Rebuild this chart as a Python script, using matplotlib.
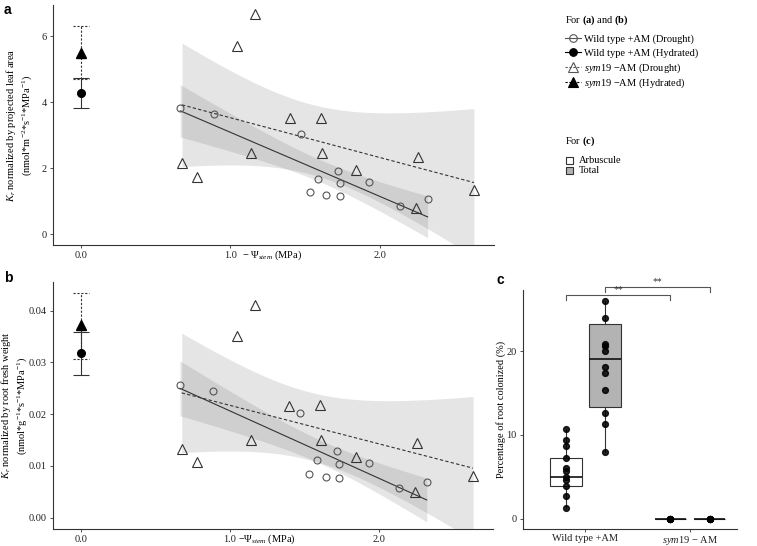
import numpy as np
import matplotlib
matplotlib.use("Agg")
import matplotlib.pyplot as plt
from matplotlib.lines import Line2D
from matplotlib.patches import Rectangle

plt.rcParams['font.family'] = ['Liberation Serif', 'DejaVu Serif']
plt.rcParams['mathtext.fontset'] = 'custom'
plt.rcParams['mathtext.rm'] = 'Liberation Serif'
plt.rcParams['mathtext.it'] = 'Liberation Serif:italic'
plt.rcParams['mathtext.bf'] = 'Liberation Serif:bold'
plt.rcParams['font.size'] = 7.5

# ---- data ----
# drought plants: -Psi_stem (MPa)
wt_psi = np.array([0.664, 0.887, 1.472, 1.719, 1.583, 1.730, 1.929, 1.532, 1.641, 1.730, 2.136, 2.319])
sym_psi = np.array([0.676, 0.778, 1.046, 1.166, 1.139, 1.396, 1.603, 1.612, 1.842, 2.254, 2.241, 2.629])

# (a) Kr by projected leaf area
wt_kr_leaf = np.array([3.82, 3.65, 3.04, 1.92, 1.66, 1.56, 1.58, 1.26, 1.19, 1.14, 0.84, 1.05])
sym_kr_leaf = np.array([2.15, 1.73, 5.71, 6.67, 2.45, 3.51, 3.52, 2.45, 1.93, 2.34, 0.78, 1.34])
# hydrated: mean, low, high
wt_hyd_leaf = [4.28, 3.82, 4.73]
sym_hyd_leaf = [5.50, 4.69, 6.29]

# (b) Kr by root fresh weight
wt_kr_root = np.array([0.02557, 0.02454, 0.02023, 0.01282, 0.01114, 0.01037, 0.01063,
                       0.00837, 0.00792, 0.00760, 0.00567, 0.00696])
sym_kr_root = np.array([0.01320, 0.01069, 0.03510, 0.04120, 0.01507, 0.02164, 0.02177,
                        0.01507, 0.01179, 0.01443, 0.00490, 0.00812])
wt_hyd_root = [0.03175, 0.02757, 0.03594]
sym_hyd_root = [0.03723, 0.03060, 0.04348]

# (c) colonisation (%)
groups = ['Wild type +AM', r'$\mathit{sym19}$ − AM']
arb_wt = [10.7, 9.37, 8.67, 7.28, 6.0, 5.65, 5.0, 4.62, 3.94, 2.67, 1.24]
tot_wt = [26.0, 24.0, 20.8, 20.6, 20.0, 18.1, 17.4, 15.4, 12.65, 11.3, 7.92]
arb_sym = [0, 0, 0, 0, 0, 0]
tot_sym = [0, 0, 0, 0, 0, 0]
# box stats: low whisker, q1, median, q3, high whisker
box_arb_wt = [1.24, 3.94, 5.0, 7.28, 10.7]
box_tot_wt = [7.92, 13.29, 19.02, 23.23, 26.0]
box_zero = [0, 0, 0, 0, 0]

legend_ab = ['Wild type +AM (Drought)', 'Wild type +AM (Hydrated)',
             r'$\mathit{sym19}$ −AM (Drought)', r'$\mathit{sym19}$ −AM (Hydrated)']
legend_c = ['Arbuscule', 'Total']

T_CRIT = 2.228  # t(0.975, df=10)
DARK = '#333333'
GREY_FILL = '#b3b3b3'
DASH = (0, (3, 2))
W, H = 757, 546


def fit_band(x, y):
    n = len(x)
    b1, b0 = np.polyfit(x, y, 1)
    xs = np.linspace(x.min(), x.max(), 100)
    yhat = b0 + b1 * xs
    resid = y - (b0 + b1 * x)
    s = np.sqrt((resid ** 2).sum() / (n - 2))
    se = s * np.sqrt(1 / n + (xs - x.mean()) ** 2 / ((x - x.mean()) ** 2).sum())
    return xs, yhat, yhat - T_CRIT * se, yhat + T_CRIT * se


def style_axes(ax):
    for side in ['top', 'right']:
        ax.spines[side].set_visible(False)
    for side in ['left', 'bottom']:
        ax.spines[side].set_color(DARK)
        ax.spines[side].set_linewidth(0.8)
    ax.tick_params(length=2.5, width=0.6, color=DARK, labelcolor='#222222',
                   labelsize=7.5, pad=2)


def kr_panel(ax, wt_y, sym_y, wt_hyd, sym_hyd, cap):
    for x, y, ls in [(sym_psi, sym_y, DASH), (wt_psi, wt_y, '-')]:
        xs, yhat, lo, hi = fit_band(x, y)
        ax.fill_between(xs, lo, hi, color='#555555', alpha=0.15, lw=0, zorder=1)
        ax.plot(xs, yhat, color=DARK, lw=0.8, ls=ls, zorder=2)
    ax.plot(wt_psi, wt_y, 'o', ms=5.0, mfc='none', mec='#555555', mew=0.8, zorder=3)
    ax.plot(sym_psi, sym_y, '^', ms=7.5, mfc='none', mec=DARK, mew=0.8, zorder=3)
    # hydrated means with error bars at x = 0
    for (m, lo, hi), ls, mk, ms in [(sym_hyd, (0, (2, 1.5)), '^', 6.5), (wt_hyd, '-', 'o', 5.5)]:
        ax.vlines(0, lo, hi, color=DARK, lw=0.8, linestyles=[ls], zorder=2)
        ax.hlines([lo, hi], -cap, cap, color=DARK, lw=0.8, linestyles=[ls], zorder=2)
        ax.plot(0, m, mk, ms=ms, color='black', zorder=4)
    ax.set_xticks([0, 1, 2])
    ax.set_xticklabels(['0.0', '1.0', '2.0'])
    style_axes(ax)


def set_ylabel_at(ax, text, px_center, ax_left_px, ax_width_px):
    ax.set_ylabel(text, fontsize=7.5, linespacing=1.2)
    ax.yaxis.set_label_coords((px_center - ax_left_px) / ax_width_px, 0.5)
    ax.yaxis.label.set_verticalalignment('center')


fig = plt.figure(figsize=(7.57, 5.46), dpi=100)

# (a)
ax_a = fig.add_axes([53 / W, 1 - 245 / H, 441 / W, 240 / H])
kr_panel(ax_a, wt_kr_leaf, sym_kr_leaf, wt_hyd_leaf, sym_hyd_leaf, 0.052)
ax_a.set_xlim(-0.187, 2.763)
ax_a.set_ylim(-0.333, 6.94)
ax_a.set_yticks([0, 2, 4, 6])
set_ylabel_at(ax_a, r'$K_r$ normalized by projected leaf area' + '\n' +
              r'(nmol*m$^{-2}$*s$^{-1}$*MPa$^{-1}$)', 19, 53, 441)
ax_a.annotate(r'$-\ \mathit{Ψ}_{\mathit{stem}}$ (MPa)', xy=(1.28, 0), xycoords=('data', 'axes fraction'),
              xytext=(0, -7.5), textcoords='offset points', ha='center', va='center', fontsize=7.5)

# (b)
ax_b = fig.add_axes([53 / W, 1 - 529 / H, 440 / W, 247 / H])
kr_panel(ax_b, wt_kr_root, sym_kr_root, wt_hyd_root, sym_hyd_root, 0.052)
ax_b.set_xlim(-0.187, 2.763)
ax_b.set_ylim(-0.00218, 0.04555)
ax_b.set_yticks([0, 0.01, 0.02, 0.03, 0.04])
ax_b.set_yticklabels(['0.00', '0.01', '0.02', '0.03', '0.04'])
set_ylabel_at(ax_b, r'$K_r$ normalized by root fresh weight' + '\n' +
              r'(nmol*g$^{-1}$*s$^{-1}$*MPa$^{-1}$)', 14, 53, 440)
ax_b.annotate(r'$-\mathit{Ψ}_{\mathit{stem}}$ (MPa)', xy=(1.25, 0), xycoords=('data', 'axes fraction'),
              xytext=(0, -7.5), textcoords='offset points', ha='center', va='center', fontsize=7.5)

# (c) colonisation boxplots
ax_c = fig.add_axes([523 / W, 1 - 529 / H, 214 / W, 239 / H])
off, bw = 0.187, 0.30
pos = [1 - off, 1 + off, 2 - off, 2 + off]
fills = ['white', GREY_FILL, 'white', GREY_FILL]
stats = []
for b in [box_arb_wt, box_tot_wt, box_zero, box_zero]:
    stats.append(dict(whislo=b[0], q1=b[1], med=b[2], q3=b[3], whishi=b[4]))
bp = ax_c.bxp(stats, positions=pos, widths=bw, showfliers=False, showcaps=False,
              patch_artist=True, manage_ticks=False,
              boxprops=dict(edgecolor=DARK, linewidth=0.8),
              whiskerprops=dict(color=DARK, linewidth=0.8),
              medianprops=dict(color='#111111', linewidth=1.2))
for patch, fc in zip(bp['boxes'], fills):
    patch.set_facecolor(fc)
for p, vals in zip(pos, [arb_wt, tot_wt, arb_sym, tot_sym]):
    ax_c.plot([p] * len(vals), vals, 'o', ms=4.2, color='black', alpha=0.85, zorder=4)

# significance brackets
for x0, x1, y in [(pos[0], pos[2], 26.7), (pos[1], pos[3], 27.7)]:
    ax_c.plot([x0, x0, x1, x1], [y - 0.6, y, y, y - 0.6], color='#555555', lw=0.8, clip_on=False)
    ax_c.text((x0 + x1) / 2, y + 0.05, '**', ha='center', va='bottom', fontsize=7, color='#333333')

ax_c.set_xlim(0.403, 2.449)
ax_c.set_ylim(-1.23, 27.29)
ax_c.set_yticks([0, 10, 20])
ax_c.set_xticks([1, 2])
ax_c.set_xticklabels(groups)
set_ylabel_at(ax_c, 'Percentage of root colonized (%)', 501, 523, 214)
style_axes(ax_c)
ax_c.tick_params(axis='x', pad=1)

# panel letters
for x, y, s in [(4, 10, 'a'), (4, 278, 'b'), (496, 280, 'c')]:
    fig.text(x / W, 1 - y / H, s, fontsize=10, fontweight='bold', family='Liberation Sans',
             ha='left', va='center')

# legend for (a) and (b), drawn by hand in figure pixels
fig.text(565 / W, 1 - 20 / H, r'For $\mathbf{(a)}$ and $\mathbf{(b)}$', fontsize=7.5, va='center')
leg_styles = [('o', 'none', '#555555', '-'), ('o', 'black', 'black', '-'),
              ('^', 'none', '#555555', (0, (2, 1.5))), ('^', 'black', 'black', (0, (2, 1.5)))]
for i, (label, (mk, mfc, mec, ls)) in enumerate(zip(legend_ab, leg_styles)):
    yc = 1 - (37.7 + 14.7 * i) / H
    ms = 5.5 if mk == 'o' else 6.5
    fig.add_artist(Line2D([565 / W, 581 / W], [yc, yc], transform=fig.transFigure,
                          color=mec, lw=0.8, ls=ls))
    fig.add_artist(Line2D([573 / W], [yc], transform=fig.transFigure, marker=mk, ms=ms,
                          mfc=mfc, mec=mec, mew=0.8, ls='none'))
    fig.text(584 / W, yc - 3.6 / H, label, fontsize=7.5, va='baseline')

# legend for (c)
fig.text(565 / W, 1 - 141.7 / H, r'For $\mathbf{(c)}$', fontsize=7.5, va='center')
for i, (label, fc) in enumerate(zip(legend_c, ['white', GREY_FILL])):
    yc = 160 + 10 * i
    fig.add_artist(Rectangle((566 / W, 1 - (yc + 3.5) / H), 7 / W, 7 / H, transform=fig.transFigure,
                             facecolor=fc, edgecolor=DARK, lw=0.8))
    fig.text(579 / W, 1 - (yc + 3.4) / H, label, fontsize=7.5, va='baseline')

fig.savefig('out.png', dpi=100)
